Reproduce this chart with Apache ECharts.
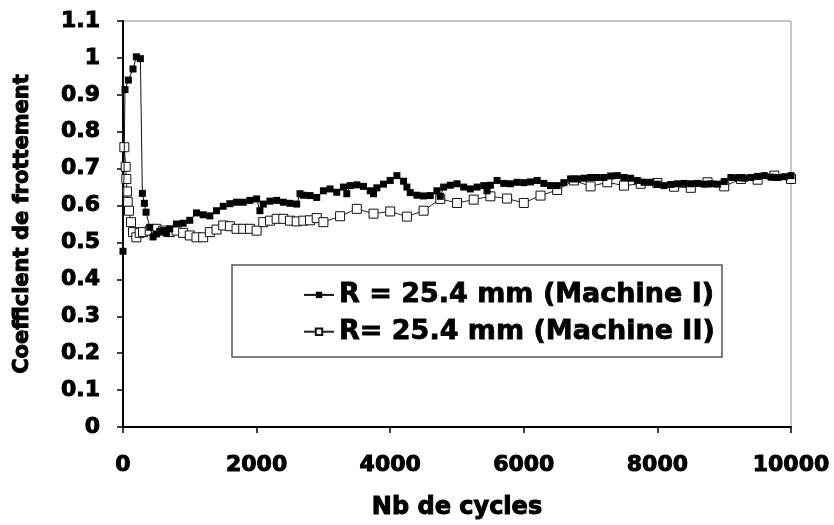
<!DOCTYPE html>
<html>
<head>
<meta charset="utf-8">
<script src="https://cdn.jsdelivr.net/npm/echarts@6/dist/echarts.min.js"></script>
<style>
  html, body { margin: 0; padding: 0; background: #fff; }
  #chart { width: 834px; height: 525px; }
</style>
</head>
<body>
<div id="chart"></div>
<script>
// Machine I : cycles and friction coefficient
const cyclesI = [0, 30, 80, 150, 200, 260, 290, 320, 345, 400, 450, 500, 550, 600, 650, 700, 800, 900, 1000,
  1100, 1200, 1300, 1400, 1500, 1600, 1700, 1800, 1900, 2000, 2050, 2100, 2200, 2300, 2400, 2500, 2600, 2650,
  2700, 2800, 2900, 3000, 3100, 3200, 3300, 3350, 3400, 3500, 3600, 3700, 3750, 3800, 3900, 4000, 4100, 4200,
  4250, 4300, 4400, 4500, 4600, 4700, 4750, 4800, 4900, 5000, 5100, 5200, 5300, 5400, 5450, 5500, 5600, 5700,
  5800, 5900, 6000, 6100, 6200, 6300, 6400, 6500, 6600, 6700, 6800, 6900, 7000, 7100, 7200, 7300, 7400, 7500,
  7600, 7700, 7800, 7900, 8000, 8100, 8200, 8300, 8400, 8500, 8600, 8700, 8800, 8900, 9000, 9100, 9200, 9300,
  9400, 9500, 9600, 9700, 9800, 9900, 10000];
const frictionI = [0.476, 0.914, 0.94, 0.97, 1.003, 0.998, 0.633, 0.606, 0.582, 0.541, 0.515, 0.523, 0.53, 0.532, 0.525, 0.537, 0.55, 0.552, 0.56,
  0.58, 0.575, 0.572, 0.586, 0.598, 0.605, 0.609, 0.609, 0.614, 0.618, 0.586, 0.604, 0.612, 0.614, 0.609, 0.606, 0.604, 0.632,
  0.628, 0.627, 0.622, 0.64, 0.645, 0.636, 0.65, 0.632, 0.654, 0.656, 0.652, 0.64, 0.632, 0.648, 0.658, 0.668, 0.681, 0.666,
  0.65, 0.635, 0.628, 0.626, 0.627, 0.64, 0.625, 0.65, 0.655, 0.659, 0.65, 0.645, 0.65, 0.654, 0.64, 0.655, 0.668, 0.66,
  0.659, 0.663, 0.662, 0.664, 0.668, 0.66, 0.654, 0.654, 0.662, 0.672, 0.672, 0.674, 0.676, 0.676, 0.676, 0.68, 0.681, 0.676,
  0.674, 0.668, 0.663, 0.663, 0.658, 0.654, 0.657, 0.659, 0.66, 0.659, 0.66, 0.658, 0.659, 0.658, 0.665, 0.676, 0.675, 0.674,
  0.676, 0.679, 0.681, 0.677, 0.676, 0.678, 0.681];

// Machine II : cycles and friction coefficient
const cyclesII = [20, 40, 50, 60, 70, 90, 120, 150, 200, 250, 300, 400, 500, 600, 700, 800, 900, 1000, 1100, 1200,
  1300, 1400, 1500, 1600, 1700, 1800, 1900, 2000, 2100, 2200, 2300, 2400, 2500, 2600, 2700, 2800, 2900, 3000,
  3250, 3500, 3750, 4000, 4250, 4500, 4750, 5000, 5250, 5500, 5750, 6000, 6250, 6500, 6750, 7000, 7250, 7500,
  7750, 8000, 8250, 8500, 8750, 9000, 9250, 9500, 9750, 10000];
const frictionII = [0.758, 0.705, 0.672, 0.638, 0.61, 0.586, 0.555, 0.528, 0.514, 0.526, 0.528, 0.532, 0.537, 0.532, 0.528, 0.532, 0.526, 0.519, 0.514, 0.514,
  0.528, 0.535, 0.546, 0.544, 0.537, 0.537, 0.537, 0.532, 0.555, 0.559, 0.564, 0.564, 0.559, 0.557, 0.559, 0.56, 0.566, 0.555,
  0.571, 0.591, 0.578, 0.584, 0.57, 0.586, 0.618, 0.607, 0.616, 0.625, 0.619, 0.607, 0.627, 0.642, 0.668, 0.652, 0.663, 0.654,
  0.659, 0.661, 0.651, 0.648, 0.663, 0.652, 0.672, 0.67, 0.681, 0.672];

const xTicks = { min: 0, max: 10000, step: 2000 };
const yTicks = { min: 0, max: 1.1, step: 0.1 };

const nameI = 'R = 25.4 mm (Machine I)';
const nameII = 'R= 25.4 mm (Machine II)';

const zip = (xs, ys) => xs.map((x, i) => [x, ys[i]]);

const FONT = '"DejaVu Sans", sans-serif';
const heavy = (size, border) => ({
  fontFamily: FONT, fontWeight: 'bold', fontSize: size, color: '#000',
  textBorderColor: '#000', textBorderWidth: border == null ? 1 : border
});

const chart = echarts.init(document.getElementById('chart'), null, { renderer: 'canvas' });
chart.setOption({
  animation: false,
  backgroundColor: '#fff',
  grid: {
    left: 123, right: 43, top: 21, bottom: 98,
    outerBoundsMode: 'none', containLabel: false,
    show: true, borderColor: '#8c8c8c', borderWidth: 1, backgroundColor: 'transparent'
  },
  graphic: [{
    type: 'rect', z: 3,
    shape: { x: 232, y: 265, width: 490, height: 92 },
    style: { fill: '#fff', stroke: '#555', lineWidth: 1.5 }
  }],
  legend: {
    z: 5,
    data: [nameI, nameII],
    orient: 'vertical',
    left: 298, top: 276,
    itemGap: 9,
    itemWidth: 30, itemHeight: 8,
    textStyle: heavy(27, 0.8)
  },
  xAxis: {
    type: 'value',
    min: xTicks.min, max: xTicks.max, interval: xTicks.step,
    name: 'Nb de cycles', nameLocation: 'middle', nameGap: 69,
    nameTextStyle: heavy(24),
    axisLine: { lineStyle: { color: '#000', width: 2 } },
    axisTick: { show: true, length: 6, lineStyle: { color: '#000', width: 1.5 } },
    axisLabel: Object.assign({ margin: 27, formatter: (v) => String(v) }, heavy(22)),
    splitLine: { show: false }
  },
  yAxis: {
    type: 'value',
    min: yTicks.min, max: yTicks.max, interval: yTicks.step,
    name: 'Coefficient de frottement', nameLocation: 'middle', nameGap: 90,
    nameTextStyle: heavy(21),
    axisLine: { show: true, lineStyle: { color: '#000', width: 2 } },
    axisTick: { show: true, length: 6, lineStyle: { color: '#000', width: 1.5 } },
    axisLabel: Object.assign({ margin: 23, formatter: (v) => String(+v.toFixed(1)) }, heavy(22)),
    splitLine: { show: false }
  },
  series: [
    {
      name: nameII, type: 'line', z: 2,
      data: zip(cyclesII, frictionII),
      symbol: 'rect', symbolSize: 9,
      itemStyle: { color: '#fff', borderColor: '#111', borderWidth: 1 },
      lineStyle: { color: '#222', width: 1 }
    },
    {
      name: nameI, type: 'line', z: 3,
      data: zip(cyclesI, frictionI),
      symbol: 'rect', symbolSize: 7,
      itemStyle: { color: '#000', borderColor: '#000', borderWidth: 0 },
      lineStyle: { color: '#111', width: 1 }
    }
  ]
});
</script>
</body>
</html>
